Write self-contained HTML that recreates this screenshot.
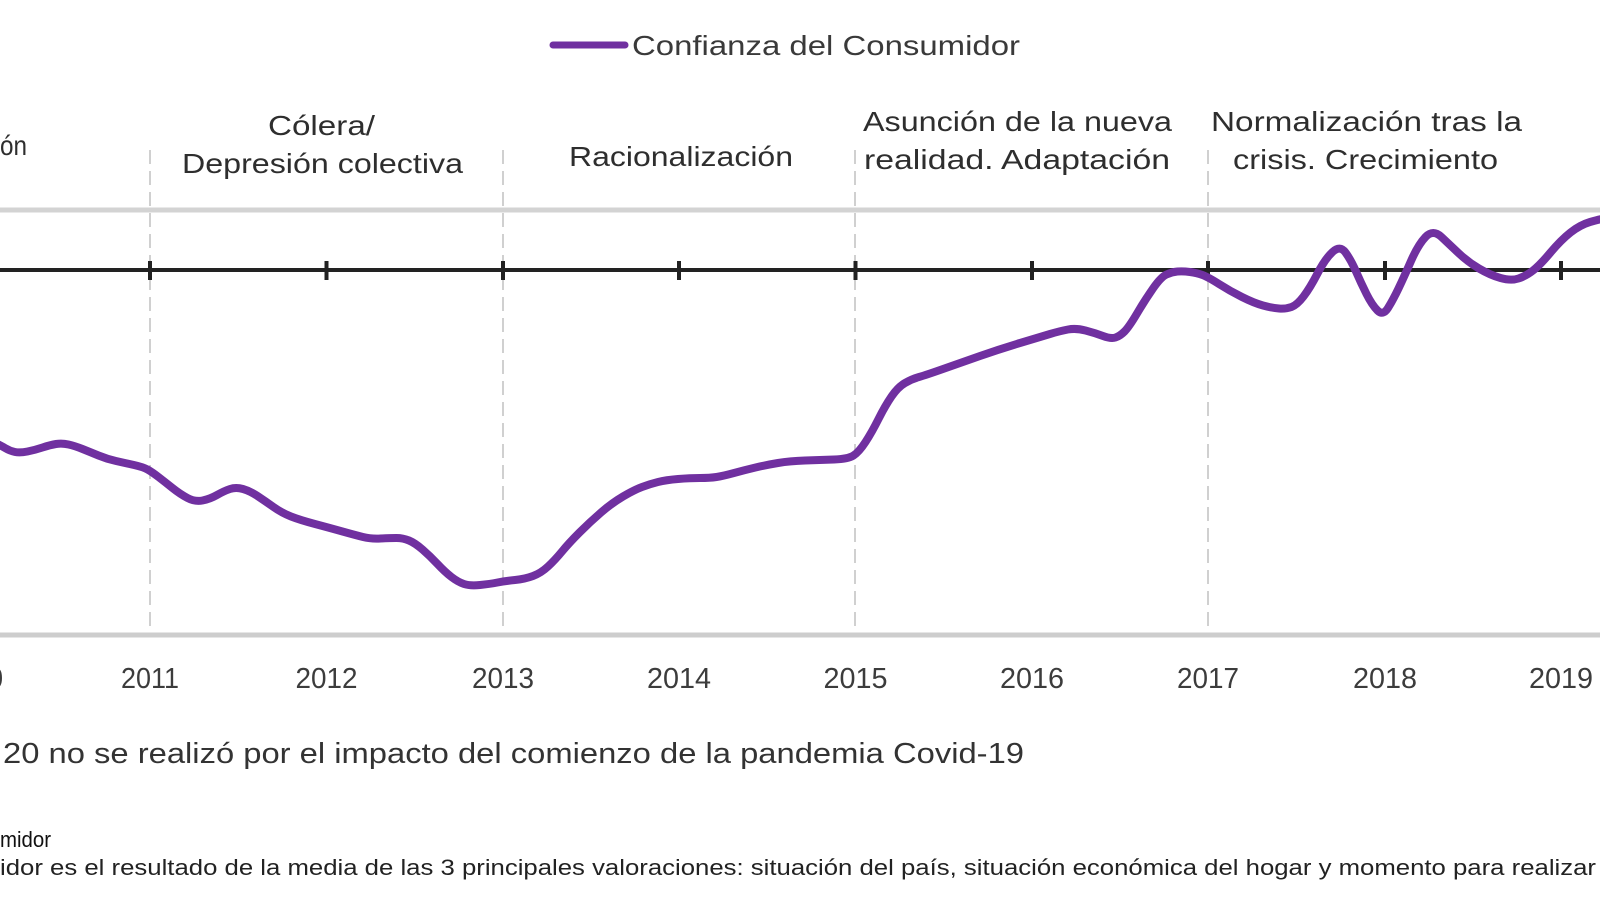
<!DOCTYPE html>
<html>
<head>
<meta charset="utf-8">
<style>
html,body{margin:0;padding:0;background:#fff;}
body{width:1600px;height:900px;overflow:hidden;}
svg{display:block;}
text{font-family:"Liberation Sans",sans-serif;}
</style>
</head>
<body>
<svg width="1600" height="900" viewBox="0 0 1600 900" xmlns="http://www.w3.org/2000/svg">
<rect width="1600" height="900" fill="#fff"/>

<!-- Legend -->
<line x1="553" y1="45" x2="625" y2="45" stroke="#7030a0" stroke-width="7" stroke-linecap="round"/>
<text x="632" y="55" font-size="28" fill="#3a3a3a" textLength="388" lengthAdjust="spacingAndGlyphs">Confianza del Consumidor</text>

<!-- Phase labels -->
<text x="0" y="155" font-size="28" fill="#2e2e2e" textLength="27" lengthAdjust="spacingAndGlyphs">ón</text>
<text x="268" y="135" font-size="28" fill="#2e2e2e" textLength="107" lengthAdjust="spacingAndGlyphs">Cólera/</text>
<text x="182" y="173" font-size="28" fill="#2e2e2e" textLength="281" lengthAdjust="spacingAndGlyphs">Depresión colectiva</text>
<text x="569" y="166" font-size="28" fill="#2e2e2e" textLength="224" lengthAdjust="spacingAndGlyphs">Racionalización</text>
<text x="863" y="131" font-size="28" fill="#2e2e2e" textLength="309" lengthAdjust="spacingAndGlyphs">Asunción de la nueva</text>
<text x="864" y="169" font-size="28" fill="#2e2e2e" textLength="306" lengthAdjust="spacingAndGlyphs">realidad. Adaptación</text>
<text x="1211" y="131" font-size="28" fill="#2e2e2e" textLength="311" lengthAdjust="spacingAndGlyphs">Normalización tras la</text>
<text x="1233" y="169" font-size="28" fill="#2e2e2e" textLength="265" lengthAdjust="spacingAndGlyphs">crisis. Crecimiento</text>

<!-- Gray band lines -->
<line x1="0" y1="210" x2="1600" y2="210" stroke="#d3d3d3" stroke-width="5"/>
<line x1="0" y1="635" x2="1600" y2="635" stroke="#cdcdcd" stroke-width="5"/>

<!-- Dashed verticals -->
<g stroke="#d0d0d0" stroke-width="2" stroke-dasharray="14 7">
<line x1="150" y1="150" x2="150" y2="632"/>
<line x1="503" y1="150" x2="503" y2="632"/>
<line x1="855" y1="150" x2="855" y2="632"/>
<line x1="1208" y1="150" x2="1208" y2="632"/>
</g>

<!-- Axis line with ticks -->
<line x1="0" y1="270" x2="1600" y2="270" stroke="#222" stroke-width="4"/>
<g stroke="#222" stroke-width="4">
<line x1="150" y1="261" x2="150" y2="280"/>
<line x1="326.5" y1="261" x2="326.5" y2="280"/>
<line x1="503" y1="261" x2="503" y2="280"/>
<line x1="679" y1="261" x2="679" y2="280"/>
<line x1="855.5" y1="261" x2="855.5" y2="280"/>
<line x1="1032" y1="261" x2="1032" y2="280"/>
<line x1="1208" y1="261" x2="1208" y2="280"/>
<line x1="1385" y1="261" x2="1385" y2="280"/>
<line x1="1561" y1="261" x2="1561" y2="280"/>
</g>

<!-- Series -->
<path fill="none" stroke="#7030a0" stroke-width="8" stroke-linejoin="round" stroke-linecap="round"
d="M -5 443 L -2.5 444 Q 0 445 5 448 Q 10 451 15 452 Q 20 453 27.5 451.5 Q 35 450 42.5 447.5 Q 50 445 56 444 Q 62 443 68.5 444.5 Q 75 446 82.5 449 Q 90 452 98.5 455.5 Q 107 459 116 461 Q 125 463 134 465 Q 143 467 147.5 469.5 Q 152 472 158.5 477 Q 165 482 172.5 488 Q 180 494 187.5 498 Q 195 502 202.5 500.5 Q 210 499 217 495 Q 224 491 230 489 Q 236 487 243 489 Q 250 491 257.5 496 Q 265 501 273.5 507 Q 282 513 291 516.5 Q 300 520 315 524 Q 330 528 342.5 531.5 Q 355 535 363 537 Q 371 539 380.5 538.5 Q 390 538 396.5 538 Q 403 538 409 540.5 Q 415 543 422.5 549.5 Q 430 556 437.5 564 Q 445 572 451.5 577 Q 458 582 464 584 Q 470 586 480 585 Q 490 584 497.5 582.5 Q 505 581 515 580 Q 525 579 533 576 Q 541 573 548 566.5 Q 555 560 562 551.5 Q 569 543 579.5 532.5 Q 590 522 601 512.5 Q 612 503 623 496.5 Q 634 490 642 487 Q 650 484 658 482 Q 666 480 678 479 Q 690 478 700 478 Q 710 478 716.5 477 Q 723 476 734 473 Q 745 470 755.5 467.5 Q 766 465 778 463 Q 790 461 805 460.5 Q 820 460 834 459.5 Q 848 459 853.5 455.5 Q 859 452 865.5 442 Q 872 432 878.5 419 Q 885 406 891.5 396.5 Q 898 387 905 383 Q 912 379 919 377 Q 926 375 943 369 Q 960 363 980 356 Q 1000 349 1020 343 Q 1040 337 1050 334 Q 1060 331 1068 329.5 Q 1076 328 1085.5 330.5 Q 1095 333 1103 336 Q 1111 339 1115.5 337.5 Q 1120 336 1124.5 331.5 Q 1129 327 1137 313.5 Q 1145 300 1153 288.5 Q 1161 277 1166.5 274.5 Q 1172 272 1177.5 271.5 Q 1183 271 1190 272 Q 1197 273 1202.5 275 Q 1208 277 1219 284 Q 1230 291 1242 297 Q 1254 303 1263 305.5 Q 1272 308 1279 308.5 Q 1286 309 1291.5 307 Q 1297 305 1303.5 296.5 Q 1310 288 1317.5 273.5 Q 1325 259 1332.5 252 Q 1340 245 1345.5 252.5 Q 1351 260 1356 271.5 Q 1361 283 1366.5 294 Q 1372 305 1377.5 310.5 Q 1383 316 1388 308 Q 1393 300 1398.5 288.5 Q 1404 277 1411 261 Q 1418 245 1425.5 237 Q 1433 229 1441.5 237 Q 1450 245 1459 253.5 Q 1468 262 1479 268.5 Q 1490 275 1500.5 278 Q 1511 281 1518.5 278.5 Q 1526 276 1533 270.5 Q 1540 265 1550.5 252.5 Q 1561 240 1570.5 232.5 Q 1580 225 1590 222 Q 1600 219 1605 218.5 L 1610 218"/>

<!-- Year labels -->
<g font-size="29" fill="#3c3c3c" text-anchor="middle">
<text x="-26" y="688" textLength="58" lengthAdjust="spacingAndGlyphs">2010</text>
<text x="150" y="688" textLength="58" lengthAdjust="spacingAndGlyphs">2011</text>
<text x="326.5" y="688" textLength="62" lengthAdjust="spacingAndGlyphs">2012</text>
<text x="503" y="688" textLength="62" lengthAdjust="spacingAndGlyphs">2013</text>
<text x="679" y="688" textLength="64" lengthAdjust="spacingAndGlyphs">2014</text>
<text x="855.5" y="688" textLength="64" lengthAdjust="spacingAndGlyphs">2015</text>
<text x="1032" y="688" textLength="64" lengthAdjust="spacingAndGlyphs">2016</text>
<text x="1208" y="688" textLength="62" lengthAdjust="spacingAndGlyphs">2017</text>
<text x="1385" y="688" textLength="64" lengthAdjust="spacingAndGlyphs">2018</text>
<text x="1561" y="688" textLength="64" lengthAdjust="spacingAndGlyphs">2019</text>
</g>

<!-- Footnotes -->
<text x="3" y="763" font-size="29" fill="#333" textLength="1021" lengthAdjust="spacingAndGlyphs">20 no se realizó por el impacto del comienzo de la pandemia Covid-19</text>
<text x="0" y="847" font-size="22" fill="#111" textLength="51" lengthAdjust="spacingAndGlyphs">midor</text>
<text x="0" y="875" font-size="22" fill="#222" textLength="1596" lengthAdjust="spacingAndGlyphs">idor es el resultado de la media de las 3 principales valoraciones: situación del país, situación económica del hogar y momento para realizar</text>
</svg>
</body>
</html>
